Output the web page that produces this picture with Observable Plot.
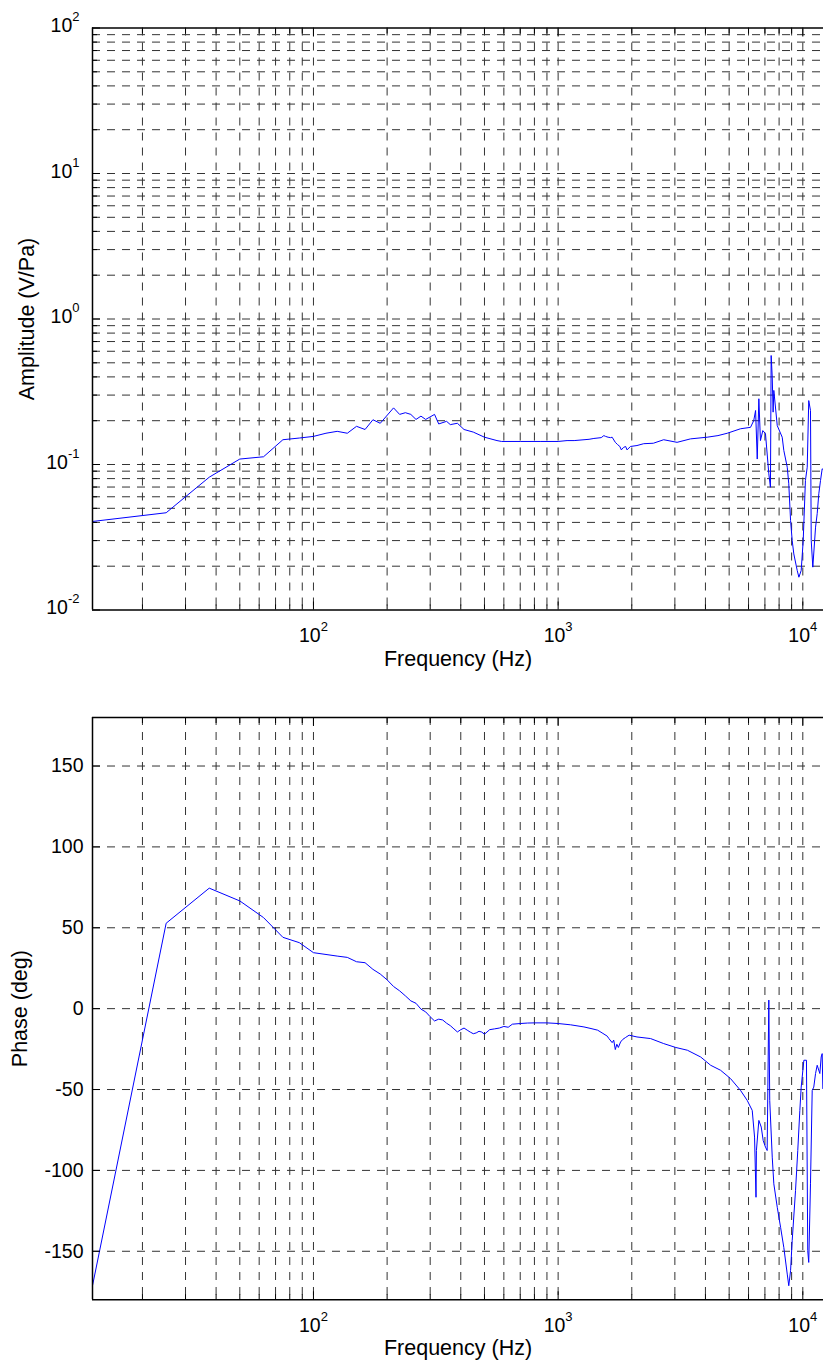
<!DOCTYPE html>
<html>
<head>
<meta charset="utf-8">
<script src="https://cdn.jsdelivr.net/npm/d3@7"></script>
<script src="https://cdn.jsdelivr.net/npm/@observablehq/plot@0.6"></script>
<style>
  html, body { margin: 0; padding: 0; background: #fff; }
  #chart svg { display: block; }
</style>
</head>
<body>
<div id="chart"></div>
<script>
// Frequency response of the sensor: amplitude (V/Pa) and phase (deg) vs frequency (Hz)
const freqAmp = [12.5, 25, 37.5, 50, 62.5, 75, 87.5, 100, 112.5, 125, 137.5, 150, 162.5, 175, 187.5,
  212.5, 225, 237.5, 250, 262.5, 275, 287.5, 312.5, 325, 350, 362.5, 387.5, 412.5, 450, 500, 562.5, 587.5,
  700, 850, 1000, 1087.5, 1162.5, 1337.5, 1400, 1500, 1537.5, 1562.5, 1600, 1637.5, 1662.5, 1712.5, 1750,
  1787.5, 1812.5, 1850, 1887.5, 1912.5, 1975, 2100, 2237.5, 2450, 2700, 3062.5, 3475, 4062.5, 4500, 4912.5,
  5562.5, 6112.5, 6300, 6412.5, 6512.5, 6612.5, 6712.5, 6862.5, 7037.5, 7262.5, 7375, 7425, 7500, 7562.5,
  7612.5, 7862.5, 8237.5, 8362.5, 8637.5, 8762.5, 8912.5, 9050, 9187.5, 9487.5, 9637.5, 9850, 10037.5,
  10250, 10425, 10575, 10750, 10825, 10987.5, 11275, 11450, 11625, 11812.5, 12000, 12137.5];
const amplitude = [0.0406, 0.0466, 0.0818, 0.109, 0.113, 0.148, 0.152, 0.156, 0.164, 0.169, 0.164, 0.183, 0.174, 0.203, 0.192,
  0.245, 0.221, 0.227, 0.221, 0.204, 0.215, 0.204, 0.221, 0.190, 0.198, 0.188, 0.192, 0.174, 0.167, 0.154, 0.146, 0.144,
  0.144, 0.144, 0.144, 0.146, 0.146, 0.149, 0.151, 0.153, 0.158, 0.156, 0.154, 0.153, 0.154, 0.142, 0.137,
  0.133, 0.126, 0.131, 0.133, 0.126, 0.133, 0.135, 0.139, 0.140, 0.148, 0.142, 0.150, 0.154, 0.158, 0.164,
  0.176, 0.180, 0.200, 0.235, 0.109, 0.283, 0.146, 0.171, 0.163, 0.0863, 0.0698, 0.561, 0.398, 0.229,
  0.323, 0.185, 0.154, 0.125, 0.0958, 0.0737, 0.0412, 0.0300, 0.0243, 0.0187, 0.0168, 0.0187, 0.0300,
  0.0776, 0.0958, 0.275, 0.235, 0.0300, 0.0197, 0.0371, 0.0459, 0.0629, 0.0776, 0.0934, 0.092];

const freqPhase = [12.5, 25, 37.5, 50, 62.5, 75, 87.5, 100, 125, 137.5, 150, 162.5, 175, 187.5, 200, 212.5,
  225, 237.5, 250, 262.5, 275, 287.5, 300, 312.5, 325, 337.5, 350, 362.5, 375, 387.5, 400, 412.5, 425,
  437.5, 450, 462.5, 475, 487.5, 500, 525, 550, 575, 600, 625, 650, 700, 750, 800, 900, 1000, 1125, 1275,
  1362.5, 1450, 1512.5, 1587.5, 1612.5, 1662.5, 1687.5, 1712.5, 1737.5, 1762.5, 1800, 1837.5, 1887.5, 1950,
  2100, 2387.5, 2700, 3025,
  3375, 3825, 4200, 4612.5, 5062.5, 5562.5, 5925, 6212.5, 6350, 6437.5, 6462.5, 6612.5, 6762.5, 6887.5,
  7037.5, 7150, 7262.5, 7325, 7500, 7612.5, 7862.5, 8112.5, 8362.5, 8637.5, 8762.5, 8912.5, 9050, 9337.5,
  9537.5, 9725, 9850, 10100, 10350, 10475, 10575, 10750, 10925, 11087.5, 11275, 11450, 11737.5, 11887.5,
  12000, 12075];
const phase = [-171.3, 52.8, 74.5, 66.6, 56.3, 44.1, 40.8, 34.6, 32.5, 31.7, 29.0, 28.4, 24.3, 21.4, 17.8, 13.7,
  11.0, 7.9, 4.8, 3.3, -0.3, -2.0, -5.0, -7.6, -6.5, -7.0, -9.0, -10.5, -12.5, -14.4, -13.0, -12.0, -13.3,
  -14.5, -15.5, -15.0, -14.0, -14.5, -15.8, -13.0, -12.5, -12.0, -11.0, -11.5, -9.6, -9.2, -8.9, -8.8, -8.8, -9.2, -10.0, -11.3,
  -12.3, -13.3, -15.0, -17.0, -18.5, -21.0, -19.5, -25.3, -22.0, -24.0, -20.6, -19.0, -17.8, -16.4,
  -17.5, -18.5, -21.6, -24.0,
  -25.7, -29.9, -35.0, -38.1, -43.2, -50.5, -56.7, -62.9, -79.4, -116.6, -87.7, -69.1, -73.2, -81.5,
  -85.6, -87.7, 5.3, -56.7, -91.8, -108.3, -122.8, -135.2, -147.6, -164.1, -171.3, -162.0, -143.4, -112.5,
  -87.7, -62.9, -48.5, -31.9, -31.9, -149.6, -156.9, -108.3, -50.5, -48.5, -40.1, -35.0, -40.1, -29.9,
  -27.8, -49.4];

// Axis ticks, grid positions and tick labels
const freqDomain = [12.5, 12150];
const freqMajor = [100, 1000, 10000];
const freqTickLabels = ["10^2", "10^3", "10^4"];
const freqGrid = [20, 30, 40, 50, 60, 70, 80, 90, 100, 200, 300, 400, 500, 600, 700, 800, 900,
  1000, 2000, 3000, 4000, 5000, 6000, 7000, 8000, 9000, 10000];
const freqMinor = [20, 30, 40, 50, 60, 70, 80, 90, 200, 300, 400, 500, 600, 700, 800, 900,
  2000, 3000, 4000, 5000, 6000, 7000, 8000, 9000];

const ampDomain = [0.01, 100];
const ampMajor = [0.01, 0.1, 1, 10, 100];
const ampTickLabels = ["10^-2", "10^-1", "10^0", "10^1", "10^2"];
const ampGrid = [0.02, 0.03, 0.04, 0.05, 0.06, 0.07, 0.08, 0.09, 0.1, 0.2, 0.3, 0.4, 0.5, 0.6, 0.7, 0.8, 0.9, 1,
  2, 3, 4, 5, 6, 7, 8, 9, 10, 20, 30, 40, 50, 60, 70, 80, 90];
const ampMinor = [0.02, 0.03, 0.04, 0.05, 0.06, 0.07, 0.08, 0.09, 0.2, 0.3, 0.4, 0.5, 0.6, 0.7, 0.8, 0.9,
  2, 3, 4, 5, 6, 7, 8, 9, 20, 30, 40, 50, 60, 70, 80, 90];

const phaseDomain = [-180, 180];
const phaseTicks = [-150, -100, -50, 0, 50, 100, 150];

const ampData = freqAmp.map((f, i) => ({f, v: amplitude[i]}));
const phaseData = freqPhase.map((f, i) => ({f, v: phase[i]}));

const FONT = "'Liberation Sans', Arial, Helvetica, sans-serif";
const TICK_FONT = 19.5;
const LABEL_FONT = 21.5;
const GRID = {stroke: "#333", strokeWidth: 1, strokeDasharray: "8,7"};
const BLUE = "#0000ff";

const freqFmt = new Map(freqMajor.map((v, i) => [v, freqTickLabels[i]]));
const ampFmt = new Map(ampMajor.map((v, i) => [v, ampTickLabels[i]]));

// Turn "10^k" tick labels into a base with a raised exponent
function raiseExponents(svg) {
  d3.select(svg).selectAll("text").each(function () {
    const t = this.textContent;
    if (!t.includes("^")) return;
    const [base, exp] = t.split("^");
    const sel = d3.select(this);
    sel.text(null);
    sel.append("tspan").text(base);
    sel.append("tspan").attr("font-size", 13).attr("dy", -11).text(exp);
  });
  return svg;
}

function panel({data, yScale, yGrid, yMinor, yAxis, yLabel, yLabelDx, marginTop, marginBottom}) {
  const yMin = yScale.domain[0], yMax = yScale.domain[1];
  const marks = [
    Plot.ruleX(freqGrid, GRID),
    Plot.ruleY(yGrid, GRID),
    Plot.line(data, {x: "f", y: "v", stroke: BLUE, strokeWidth: 1}),
    // inward ticks on the bottom, top and left edges
    Plot.axisX(freqMajor, {anchor: "bottom", tickSize: 8, dy: -8, fill: "none", label: null}),
    Plot.axisX(freqMinor, {anchor: "bottom", tickSize: 5, dy: -5, fill: "none", label: null}),
    Plot.axisX(freqMajor, {anchor: "top", tickSize: 8, dy: 8, fill: "none", label: null}),
    Plot.axisX(freqMinor, {anchor: "top", tickSize: 5, dy: 5, fill: "none", label: null}),
    Plot.axisY(yAxis.ticks, {anchor: "left", tickSize: 8, dx: 8, fill: "none", label: null}),
    yMinor ? Plot.axisY(yMinor, {anchor: "left", tickSize: 5, dx: 5, fill: "none", label: null}) : null,
    // tick labels
    Plot.axisX(freqMajor, {anchor: "bottom", tickSize: 0, tickPadding: 18, tickFormat: (d) => freqFmt.get(d),
      fontSize: TICK_FONT, fill: "#000", label: null}),
    Plot.axisY(yAxis.ticks, {anchor: "left", tickSize: 0, tickPadding: yAxis.padding, dy: yAxis.dy,
      tickFormat: yAxis.format, fontSize: TICK_FONT, fill: "#000", label: null}),
    // axes box (left, top, bottom)
    Plot.ruleX([freqDomain[0]], {stroke: "#000", strokeWidth: 1.5}),
    Plot.ruleY([yMin, yMax], {stroke: "#000", strokeWidth: 1.5}),
    // axis titles
    Plot.text(["Frequency (Hz)"], {text: (d) => d, frameAnchor: "bottom", textAnchor: "middle", dy: 55.5,
      fontSize: LABEL_FONT, fill: "#000"}),
    Plot.text([yLabel], {text: (d) => d, frameAnchor: "left", textAnchor: "middle", lineAnchor: "middle",
      rotate: -90, dx: yLabelDx, fontSize: LABEL_FONT, fill: "#000"})
  ];
  const svg = Plot.plot({
    width: 823,
    height: 686,
    marginLeft: 92,
    marginRight: 0,
    marginTop,
    marginBottom,
    style: {fontFamily: FONT, background: "#fff", color: "#000", overflow: "visible"},
    x: {type: "log", domain: freqDomain},
    y: yScale,
    marks
  });
  return raiseExponents(svg);
}

const ampSvg = panel({
  data: ampData,
  yScale: {type: "log", domain: ampDomain},
  yGrid: ampGrid,
  yMinor: ampMinor,
  yAxis: {ticks: ampMajor, format: (d) => ampFmt.get(d), padding: 13, dy: -2},
  yLabel: "Amplitude (V/Pa)",
  yLabelDx: -65,
  marginTop: 27.5,
  marginBottom: 76.5
});

const phaseSvg = panel({
  data: phaseData,
  yScale: {type: "linear", domain: phaseDomain},
  yGrid: phaseTicks,
  yMinor: null,
  yAxis: {ticks: phaseTicks, format: (d) => String(d), padding: 9, dy: 0},
  yLabel: "Phase (deg)",
  yLabelDx: -72,
  marginTop: 31,
  marginBottom: 72.7
});

document.getElementById("chart").append(ampSvg, phaseSvg);
</script>
</body>
</html>
